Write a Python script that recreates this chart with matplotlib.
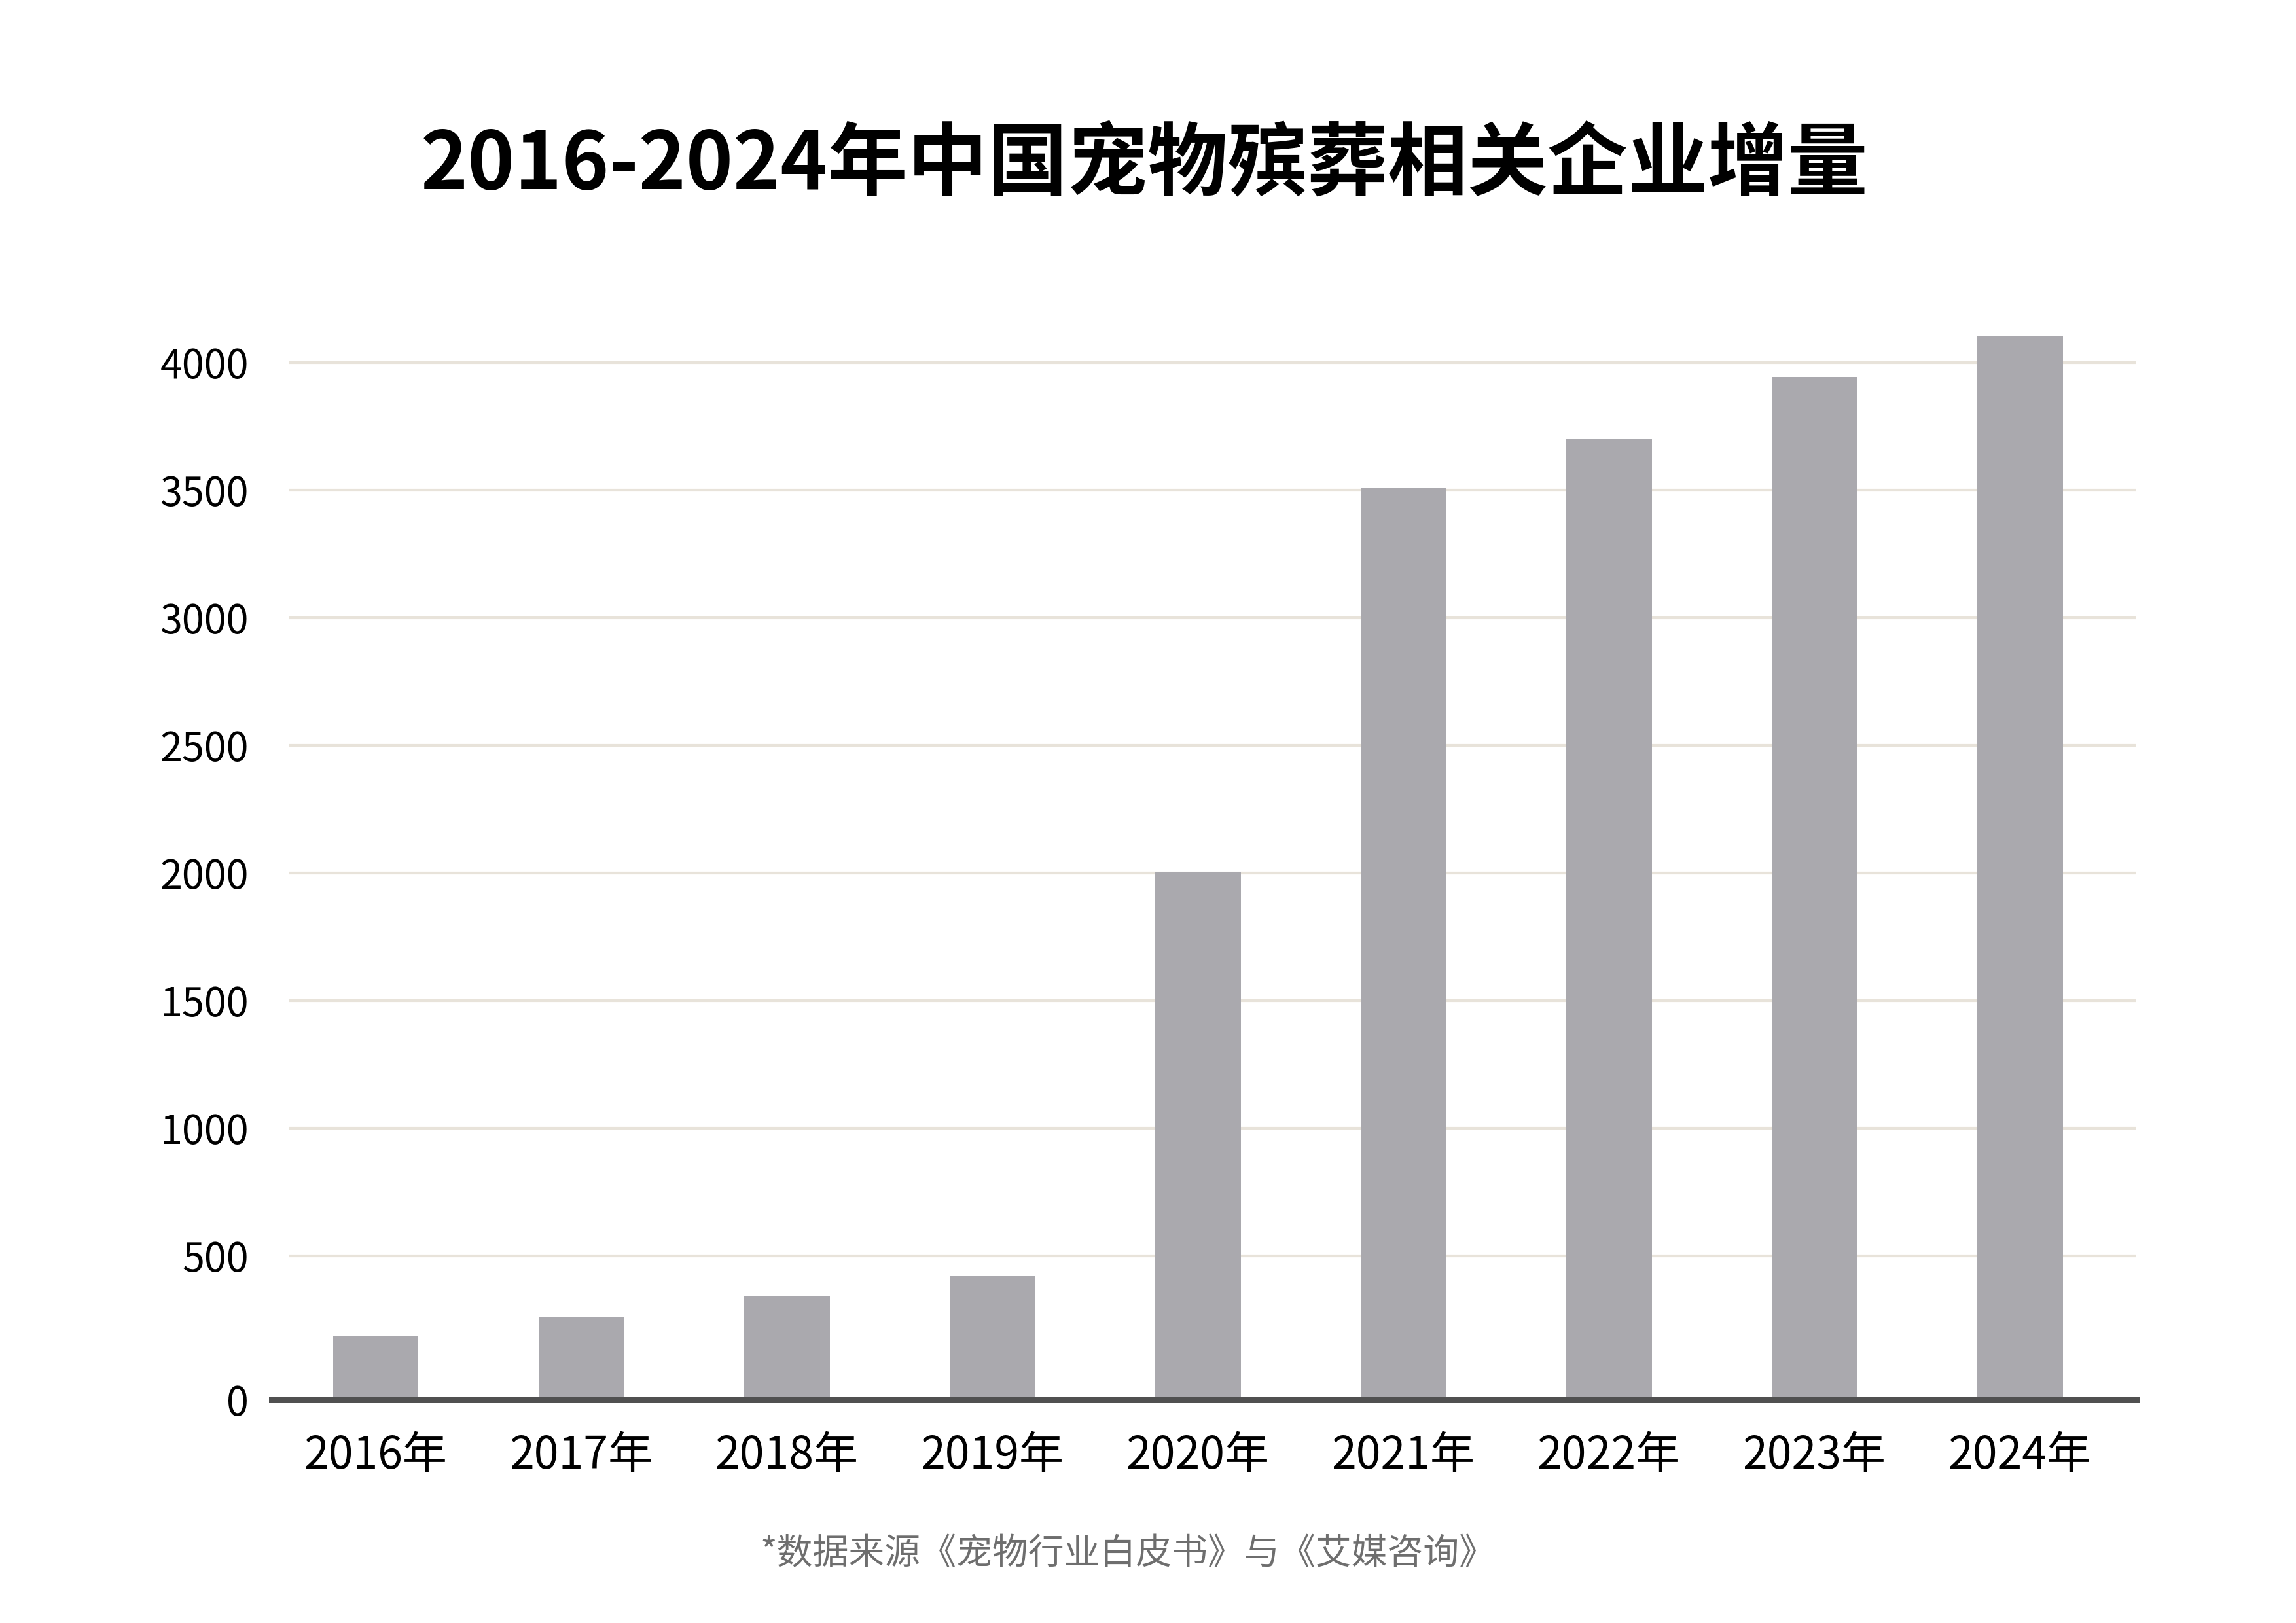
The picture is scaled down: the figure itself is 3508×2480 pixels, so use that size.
import numpy as np
import matplotlib
matplotlib.use("Agg")
import matplotlib.pyplot as plt

plt.rcParams['font.family'] = ['Noto Sans CJK SC', 'DejaVu Sans']

years = ['2016年', '2017年', '2018年', '2019年', '2020年', '2021年', '2022年', '2023年', '2024年']
counts = [185, 258, 345, 420, 2005, 3508, 3700, 3945, 4105]
grid_vals = [500, 1000, 1500, 2000, 2500, 3000, 3500, 4000]

title = '2016-2024年中国宠物殡葬相关企业增量'
source = '*数据来源《宠物行业白皮书》与《艾媒咨询》'

floor = -64  # 基线位置 (原图 0 刻度略低于等距位置)

fig = plt.figure(figsize=(35.08, 24.80), dpi=100)
ax = fig.add_axes([0.1186, 0.1375, 0.8119, 0.6705])

x = np.arange(len(years))
vals = np.array(counts)
ax.bar(x, vals - floor, bottom=floor, width=0.417, color='#aaa9ae', zorder=2)

ax.hlines(grid_vals, -0.424, 8.567, color='#e8e3da', lw=3, zorder=0)

ax.set_xlim(-0.503, 8.567)
ax.set_ylim(floor, 4200)

for s in ['top', 'right', 'left']:
    ax.spines[s].set_visible(False)
ax.spines['bottom'].set_color('#505050')
ax.spines['bottom'].set_linewidth(7.2)
ax.spines['bottom'].set_zorder(3)

ax.set_xticks(x)
ax.set_xticklabels(years)
ax.set_yticks([floor] + grid_vals)
ax.set_yticklabels(['0'] + [str(v) for v in grid_vals])
ax.tick_params(axis='y', length=0, pad=26, labelsize=44)
ax.tick_params(axis='x', length=0, pad=37, labelsize=49)

fig.text(0.4985, 1 - 253 / 2480, title, ha='center', va='center',
         fontsize=88, fontweight='bold', color='black')
fig.text(1723 / 3508, 1 - 2374 / 2480, source, ha='center', va='center',
         fontsize=39.5, color='#6e6e6e')

fig.savefig('out.png', dpi=100, facecolor='white')
